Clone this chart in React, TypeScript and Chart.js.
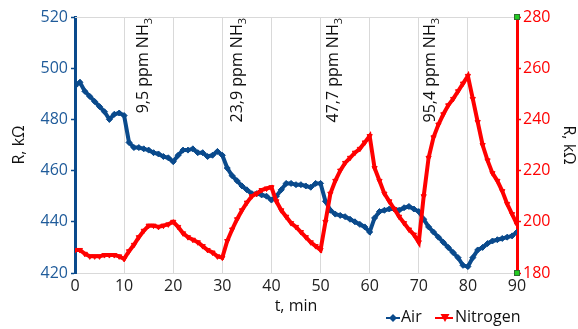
import React, { useEffect, useRef } from "react";
import { Chart, registerables } from "chart.js";

Chart.register(...registerables);

const times = [
  0, 1, 2, 3, 4, 5, 6, 7, 8, 9, 10, 11, 12, 13, 14, 15, 16, 17, 18, 19, 20,
  21, 22, 23, 24, 25, 26, 27, 28, 29, 30, 31, 32, 33, 34, 35, 36, 37, 38, 39, 40,
  41, 42, 43, 44, 45, 46, 47, 48, 49, 50, 51, 52, 53, 54, 55, 56, 57, 58, 59, 60,
  61, 62, 63, 64, 65, 66, 67, 68, 69, 70, 71, 72, 73, 74, 75, 76, 77, 78, 79, 80,
  81, 82, 83, 84, 85, 86, 87, 88, 89, 90,
];

const airValues = [
  493, 494.5, 491, 489, 487, 485, 483, 480, 482, 482.5, 481.5,
  471, 469, 469, 468.5, 468, 467, 466.5, 465.5, 465, 463.5,
  466, 468, 468, 468.5, 467, 467, 465.5, 466, 467.5, 466,
  461, 458, 456, 454, 452.5, 451, 451, 450.5, 450, 448.5,
  450, 452.5, 455, 455, 454.5, 454.5, 454, 453.5, 455, 455,
  448, 444.5, 443, 442.5, 442, 441, 440, 439, 438, 436,
  441.5, 444, 444.5, 445, 445, 444.5, 445.5, 446, 445, 444,
  441, 438, 436, 434, 432, 430, 428, 426, 423, 422.5,
  426, 429, 430, 431.5, 432.5, 433, 433.5, 434, 434.5, 436,
];

const nitrogenValues = [
  189, 189, 187.5, 186.5, 186.5, 186.5, 187, 187, 187, 186.5, 185.5,
  188.5, 191, 194, 196.5, 198.5, 198.5, 198, 198.5, 199, 200,
  198, 195.5, 194, 193, 192, 190.5, 189, 188, 186.5, 186,
  192.5, 197, 201, 204.5, 207.5, 210, 211, 212.4, 213, 213.5,
  208, 204.5, 202, 199.5, 198, 196, 194, 192, 190.5, 189,
  200, 211, 216, 220, 223, 225, 227, 228.5, 231, 233.5,
  221, 216, 211, 208, 205, 202, 199.5, 197, 195, 192,
  210, 225, 233, 238, 242, 245.5, 248, 251, 254, 257,
  248, 239, 230, 224, 219, 216, 212, 207, 203, 199,
];

const xTickValues = [0, 10, 20, 30, 40, 50, 60, 70, 80, 90];
const leftTickValues = [420, 440, 460, 480, 500, 520];
const rightTickValues = [180, 200, 220, 240, 260, 280];

const annotationTexts = ["9,5 ppm NH", "23,9 ppm NH", "47,7 ppm NH", "95,4 ppm NH"];
const annotationSub = "3";
const annotationTimes = [14.9, 34, 53.6, 73.3];

const seriesNames = ["Air", "Nitrogen"];

const BLUE = "#0A4A8C";
const BLUE_TEXT = "#1F5B9A";
const RED = "#FF0000";
const GRID = "#D9D9D9";
const FONT = "'Open Sans', sans-serif";

export default function App() {
  const ref = useRef<HTMLCanvasElement | null>(null);

  useEffect(() => {
    const canvas = ref.current;
    if (!canvas) return;

    const decorPlugin = {
      id: "decor",
      beforeDatasetsDraw(chart: any) {
        const { ctx, chartArea } = chart;
        ctx.save();
        ctx.strokeStyle = GRID;
        ctx.lineWidth = 1;
        ctx.beginPath();
        ctx.moveTo(chartArea.left, chartArea.top + 0.5);
        ctx.lineTo(chartArea.right, chartArea.top + 0.5);
        ctx.stroke();
        ctx.restore();
      },
      afterDraw(chart: any) {
        const { ctx, chartArea } = chart;
        const xs = chart.scales.x;
        ctx.save();
        // annotations
        annotationTexts.forEach((txt, i) => {
          const x = xs.getPixelForValue(annotationTimes[i]);
          ctx.save();
          ctx.translate(x, chartArea.top + 1);
          ctx.rotate(-Math.PI / 2);
          ctx.fillStyle = "#111";
          ctx.textBaseline = "alphabetic";
          ctx.textAlign = "left";
          ctx.font = `11px ${FONT}`;
          const ws = ctx.measureText(annotationSub).width;
          ctx.font = `16px ${FONT}`;
          const wm = ctx.measureText(txt).width;
          ctx.fillText(txt, -(wm + ws), 0);
          ctx.font = `11px ${FONT}`;
          ctx.fillText(annotationSub, -ws, 4);
          ctx.restore();
        });
        // green handles on right axis
        [chartArea.top, chartArea.bottom].forEach((y: number) => {
          ctx.fillStyle = "#22CC22";
          ctx.strokeStyle = "#2E6B2E";
          ctx.lineWidth = 1;
          ctx.fillRect(chartArea.right - 2.5, y - 2.5, 5, 5);
          ctx.strokeRect(chartArea.right - 2.5, y - 2.5, 5, 5);
        });
        // legend
        const ly = 318;
        ctx.lineWidth = 2;
        ctx.strokeStyle = BLUE;
        ctx.beginPath();
        ctx.moveTo(386, ly);
        ctx.lineTo(400, ly);
        ctx.stroke();
        ctx.fillStyle = BLUE;
        ctx.beginPath();
        ctx.moveTo(393, ly - 4);
        ctx.lineTo(397, ly);
        ctx.lineTo(393, ly + 4);
        ctx.lineTo(389, ly);
        ctx.closePath();
        ctx.fill();
        ctx.strokeStyle = RED;
        ctx.beginPath();
        ctx.moveTo(435, ly);
        ctx.lineTo(453, ly);
        ctx.stroke();
        ctx.fillStyle = RED;
        ctx.beginPath();
        ctx.moveTo(440.5, ly - 4);
        ctx.lineTo(449.5, ly - 4);
        ctx.lineTo(445, ly + 4);
        ctx.closePath();
        ctx.fill();
        ctx.fillStyle = "#111";
        ctx.font = `16px ${FONT}`;
        ctx.textBaseline = "middle";
        ctx.textAlign = "left";
        ctx.fillText(seriesNames[0], 401, ly - 1);
        ctx.fillText(seriesNames[1], 455, ly - 1);
        ctx.restore();
      },
    };

    const chart = new Chart(canvas, {
      type: "line",
      data: {
        datasets: [
          {
            label: seriesNames[1],
            data: times.map((t, i) => ({ x: t, y: nitrogenValues[i] })),
            yAxisID: "yR",
            borderColor: RED,
            backgroundColor: RED,
            borderWidth: 4,
            pointStyle: "triangle",
            rotation: 180,
            pointRadius: 3,
            pointBorderWidth: 1,
            order: 0,
          },
          {
            label: seriesNames[0],
            data: times.map((t, i) => ({ x: t, y: airValues[i] })),
            yAxisID: "yL",
            borderColor: BLUE,
            backgroundColor: BLUE,
            borderWidth: 4,
            pointStyle: "rectRot",
            pointRadius: 3,
            pointBorderWidth: 1,
            order: 1,
          },
        ],
      },
      options: {
        animation: false,
        responsive: false,
        devicePixelRatio: 1,
        layout: { padding: { top: 17, left: 0, right: 0, bottom: 0 } },
        plugins: { legend: { display: false }, tooltip: { enabled: false } },
        scales: {
          x: {
            type: "linear",
            position: "bottom",
            min: 0,
            max: 90,
            afterBuildTicks: (s: any) => {
              s.ticks = xTickValues.map((v) => ({ value: v }));
            },
            afterFit: (s: any) => {
              s.height = 56;
            },
            ticks: { color: "#222", font: { family: FONT, size: 16 }, padding: 4, maxRotation: 0 },
            grid: { color: GRID, lineWidth: 1, drawTicks: false },
            border: { color: GRID, width: 1 },
            title: {
              display: true,
              text: "t, min",
              color: "#111",
              font: { family: FONT, size: 16 },
              padding: { top: 0, bottom: 13 },
            },
          },
          yL: {
            type: "linear",
            position: "left",
            min: 420,
            max: 520,
            afterBuildTicks: (s: any) => {
              s.ticks = leftTickValues.map((v) => ({ value: v }));
            },
            afterFit: (s: any) => {
              s.width = 75;
            },
            ticks: { color: BLUE_TEXT, font: { family: FONT, size: 16 }, padding: 3 },
            grid: { drawOnChartArea: false, color: BLUE, tickLength: 4, tickWidth: 1.5 },
            border: { color: BLUE, width: 3 },
            title: {
              display: true,
              text: "R, kΩ",
              color: "#111",
              font: { family: FONT, size: 16 },
              padding: { top: 10, bottom: 0 },
            },
          },
          yR: {
            type: "linear",
            position: "right",
            min: 180,
            max: 280,
            afterBuildTicks: (s: any) => {
              s.ticks = rightTickValues.map((v) => ({ value: v }));
            },
            afterFit: (s: any) => {
              s.width = 61;
            },
            ticks: { color: RED, font: { family: FONT, size: 16 }, padding: 2 },
            grid: { drawOnChartArea: false, color: RED, tickLength: 4, tickWidth: 1.5 },
            border: { color: RED, width: 3 },
            title: {
              display: true,
              text: "R, kΩ",
              color: "#111",
              font: { family: FONT, size: 16 },
              padding: { top: 0, bottom: 0 },
            },
          },
        },
      },
      plugins: [decorPlugin],
    } as any);

    return () => chart.destroy();
  }, []);

  return (
    <div style={{ position: "fixed", left: 0, top: 0, width: 578, height: 329, background: "#fff" }}>
      <canvas ref={ref} width={578} height={329} style={{ display: "block", width: 578, height: 329 }} />
    </div>
  );
}
